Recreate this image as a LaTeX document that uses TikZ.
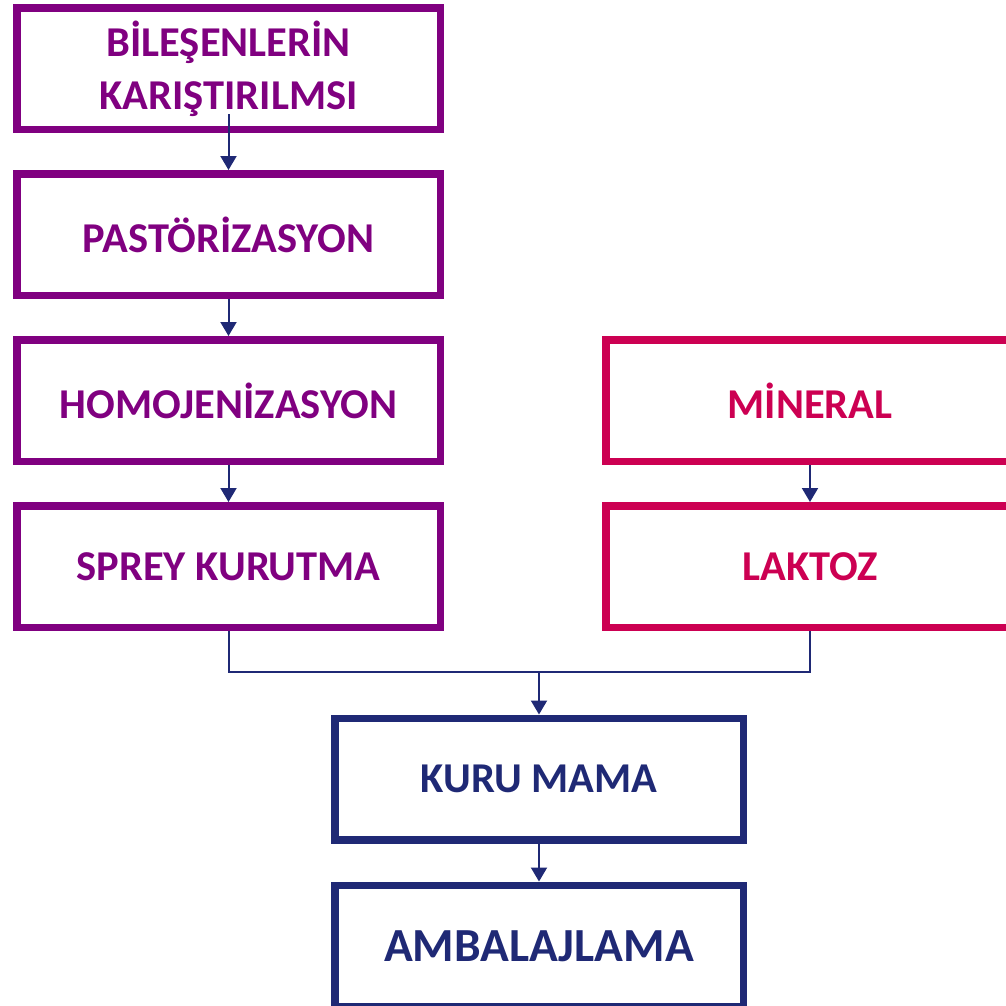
\documentclass[tikz,border=0pt]{standalone}
\usepackage{fontspec}
\setmainfont{Carlito}
\usetikzlibrary{arrows.meta, positioning}
\definecolor{mor}{RGB}{128,0,128}
\definecolor{kirmizi}{RGB}{204,0,82}
\definecolor{lacivert}{RGB}{31,41,117}

\begin{document}
\begin{tikzpicture}[
						block/.style={draw,rectangle, line width=7.5pt, inner sep=0pt, align=center,
							minimum width=423.5pt, minimum height=121.5pt, font=\fontsize{42.5}{53}\selectfont\bfseries},
						anakol/.style={block, draw=mor, text=mor},
						katki/.style={block, draw=kirmizi, text=kirmizi, minimum width=408.5pt},
						son/.style={block, draw=lacivert, text=lacivert, minimum width=408.5pt},
						every edge/.append style={draw=lacivert, line width=2pt, -{Triangle[width=16pt,length=14pt]}},
						node distance=37pt]
		\useasboundingbox (0pt,0pt) rectangle (1006pt,-1005pt);
		\node (mix) [anakol] at (228.5pt,-68.5pt) {BİLEŞENLERİN\\KARIŞTIRILMSI};
		\node (past) [anakol, below=of mix] {PASTÖRİZASYON};
		\node (homo) [anakol, below=of past] {HOMOJENİZASYON};
		\node (sprey) [anakol, below=of homo] {SPREY KURUTMA};
		\node (mineral) [katki, right=158pt of homo] {MİNERAL};
		\node (laktoz) [katki, below=of mineral] {LAKTOZ};
		\node (kuru) [son] at (539pt,-779pt) {KURU MAMA};
		\node (amb) [son, below=38pt of kuru, font=\fontsize{47.5}{53}\selectfont\bfseries] {AMBALAJLAMA};

		\coordinate (birles) at ([yshift=43pt]kuru.north);

		\draw[lacivert, line width=2pt] (sprey.south) |- (birles) -| (laktoz.south);

		\path 	([yshift=19pt]mix.south)	edge	(past)
				(past)		edge	(homo)
				(homo)		edge	(sprey)
				(mineral)	edge	(laktoz)
				(birles)	edge	(kuru)
				(kuru)		edge	(amb);
	\end{tikzpicture}
\end{document}
